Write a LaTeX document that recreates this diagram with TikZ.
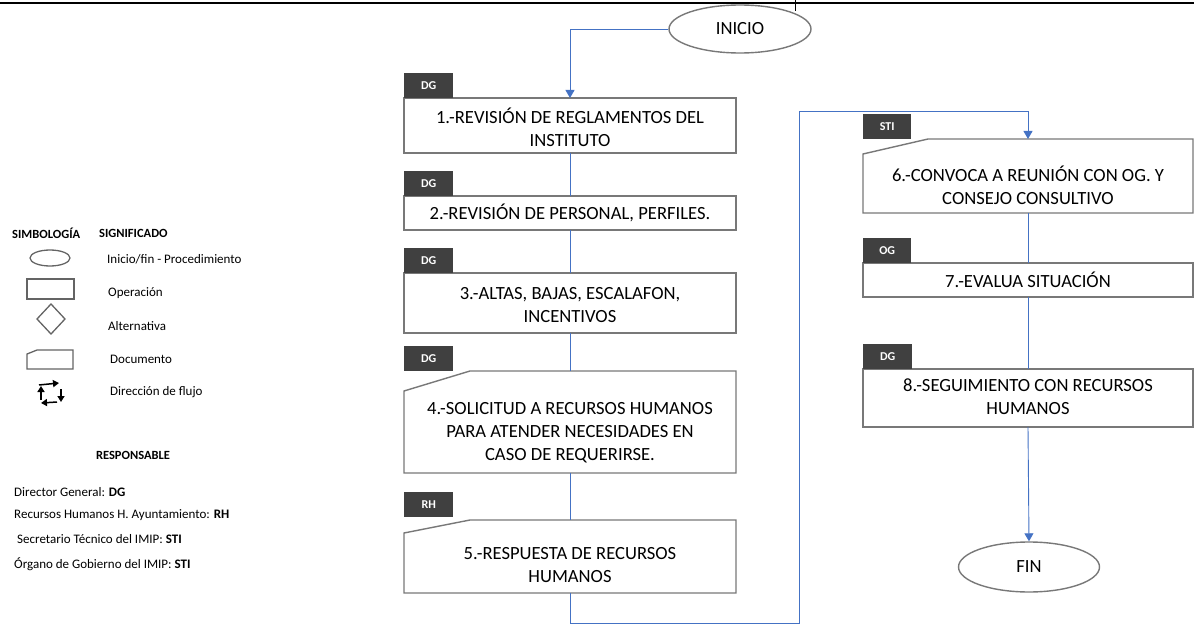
\documentclass[tikz,border=0pt]{standalone}
\usepackage{fontspec}
\setmainfont{Carlito}
\usetikzlibrary{shapes.geometric,arrows.meta}
\definecolor{flow}{RGB}{68,114,196}
\definecolor{edge}{RGB}{120,120,120}
\definecolor{tagfill}{RGB}{64,64,64}
\definecolor{symb}{RGB}{100,100,100}

\tikzset{
  opbox/.style={draw=edge, line width=1.4pt, fill=white, inner sep=0pt, outer sep=0pt},
  docbox/.style={opbox, draw=none},
  docline/.style={draw=edge, line width=1.4pt, line join=miter},
  boxtext/.style={align=center, font=\fontsize{18.6}{23}\selectfont, inner sep=0pt},
  tagbox/.style={fill=tagfill, text=white, font=\fontsize{12}{13}\selectfont\bfseries,
                 minimum width=49pt, minimum height=25pt, inner sep=0pt, anchor=south west},
  term/.style={ellipse, draw=edge, line width=1.4pt, fill=white, inner sep=0pt,
               font=\fontsize{18.6}{22}\selectfont},
  link/.style={draw=flow, line width=0.9pt},
  linkarrow/.style={link, -{Triangle[width=9pt,length=8pt]}},
  legtext/.style={anchor=west, inner sep=0pt, font=\fontsize{13}{15}\selectfont},
  legshape/.style={draw=symb, line width=1.3pt},
  cyclearrow/.style={draw=black, line width=1.5pt, -{Triangle[width=7pt,length=6pt]}},
}

\begin{document}
\begin{tikzpicture}[x=1pt, y=-1pt]
  \useasboundingbox (0,0) rectangle (1194,631);

  % page rule
  \draw[line width=2.6pt] (0,3) -- (1194,3);
  \draw[line width=0.9pt] (795,0) -- (795,11);

  % ---------- legend ----------
  \node[legtext, font=\fontsize{12.5}{14}\selectfont\bfseries] (hsym) at (12,233) {SIMBOLOGÍA};
  \node[legtext, font=\fontsize{12.5}{14}\selectfont\bfseries] (hsig) at (99,233) {SIGNIFICADO};

  \draw[legshape] (50,258) ellipse [x radius=20, y radius=8];
  \node[legtext] (l1) at (107,259) {Inicio/fin - Procedimiento};

  \draw[legshape] (27,279) rectangle (74,299);
  \node[legtext] (l2) at (108,293) {Operación};

  \draw[legshape] (37,319) -- (51,304) -- (65,319) -- (51,334) -- cycle;
  \node[legtext] (l3) at (108,326) {Alternativa};

  \draw[legshape] (27,369) -- (27,354) -- (37,350) -- (73,350) -- (73,369) -- cycle;
  \node[legtext] (l4) at (110,359) {Documento};

  \draw[cyclearrow] (39,385) -- (59,383);
  \draw[cyclearrow] (61,389) -- (61,402);
  \draw[cyclearrow] (57,402) -- (41,403);
  \draw[cyclearrow] (41,400) -- (41,386);
  \node[legtext] (l5) at (110,392) {Dirección de flujo};

  \node[inner sep=0pt, font=\fontsize{12.5}{14}\selectfont\bfseries] (hresp) at (133,455) {RESPONSABLE};
  \node[legtext] (r1) at (14,492) {Director General: \textbf{DG}};
  \node[legtext] (r2) at (14,515) {Recursos Humanos H. Ayuntamiento: \textbf{RH}};
  \node[legtext] (r3) at (17,539) {Secretario Técnico del IMIP: \textbf{STI}};
  \node[legtext] (r4) at (14,564) {Órgano de Gobierno del IMIP: \textbf{STI}};

  % ---------- terminals ----------
  \node[term, minimum width=142pt, minimum height=48pt] (start) at (740,29) {INICIO};
  \node[term, minimum width=141pt, minimum height=50pt] (fin) at (1029,567) {FIN};

  % ---------- left column ----------
  \node[opbox, minimum width=332pt, minimum height=55pt] (b1) at (570,125.5) {};
  \node[opbox, minimum width=332pt, minimum height=34pt] (b2) at (570,213) {};
  \node[opbox, minimum width=332pt, minimum height=60pt] (b3) at (570,303) {};
  \node[docbox, minimum width=332pt, minimum height=102pt] (b4) at (570,422) {};
  \node[docbox, minimum width=332pt, minimum height=73pt] (b5) at (570,556.5) {};

  % ---------- right column ----------
  \node[docbox, minimum width=330pt, minimum height=74pt] (b6) at (1028,176) {};
  \node[opbox, minimum width=330pt, minimum height=34pt] (b7) at (1028,280) {};
  \node[opbox, minimum width=330pt, minimum height=58pt] (b8) at (1028,398) {};

  % document outlines with the clipped upper-left corner
  \draw[docline] ([yshift=-20pt]b4.north west) -- ([xshift=66pt]b4.north west)
    -- (b4.north east) -- (b4.south east) -- (b4.south west) -- cycle;
  \draw[docline] ([yshift=-13pt]b5.north west) -- ([xshift=66pt]b5.north west)
    -- (b5.north east) -- (b5.south east) -- (b5.south west) -- cycle;
  \draw[docline] ([yshift=-15pt]b6.north west) -- ([xshift=65pt]b6.north west)
    -- (b6.north east) -- (b6.south east) -- (b6.south west) -- cycle;

  % box texts
  \node[boxtext] (t1) at (570,127) {1.-REVISIÓN DE REGLAMENTOS DEL\\INSTITUTO};
  \node[boxtext] (t2) at (570,213) {2.-REVISIÓN DE PERSONAL, PERFILES.};
  \node[boxtext] (t3) at (570,305) {3.-ALTAS, BAJAS, ESCALAFON,\\INCENTIVOS};
  \node[boxtext] (t4) at (570,433) {4.-SOLICITUD A RECURSOS HUMANOS\\PARA ATENDER NECESIDADES EN\\CASO DE REQUERIRSE.};
  \node[boxtext] (t5) at (570,565) {5.-RESPUESTA DE RECURSOS\\HUMANOS};
  \node[boxtext] (t6) at (1028,185) {6.-CONVOCA A REUNIÓN CON OG. Y\\CONSEJO CONSULTIVO};
  \node[boxtext] (t7) at (1028,280) {7.-EVALUA SITUACIÓN};
  \node[boxtext] (t8) at (1028,397) {8.-SEGUIMIENTO CON RECURSOS\\HUMANOS};

  % responsibility tags
  \node[tagbox] (g1) at (b1.north west) {DG};
  \node[tagbox] (g2) at (b2.north west) {DG};
  \node[tagbox] (g3) at (b3.north west) {DG};
  \node[tagbox] (g4) at (b4.north west) {DG};
  \node[tagbox, yshift=3pt] (g5) at (b5.north west) {RH};
  \node[tagbox, minimum width=48pt] (g6) at (b6.north west) {STI};
  \node[tagbox, minimum width=48pt] (g7) at (b7.north west) {OG};
  \node[tagbox] (g8) at (b8.north west) {DG};

  % ---------- flow ----------
  \coordinate (loopA) at (799,623);
  \coordinate (loopB) at (799,111);
  \draw[linkarrow] (start.west) -| (b1.north);
  \draw[link] (b1.south) -- (b2.north);
  \draw[link] (b2.south) -- (b3.north);
  \draw[link] (b3.south) -- (b4.north);
  \draw[link] (b4.south) -- (b5.north);
  \draw[linkarrow] (b5.south) |- (loopA) -- (loopB) -| (b6.north);
  \draw[link] (b6.south) -- (b7.north);
  \draw[link] (b7.south) -- (b8.north);
  \draw[linkarrow] (b8.south) -- (fin.north);
\end{tikzpicture}
\end{document}
